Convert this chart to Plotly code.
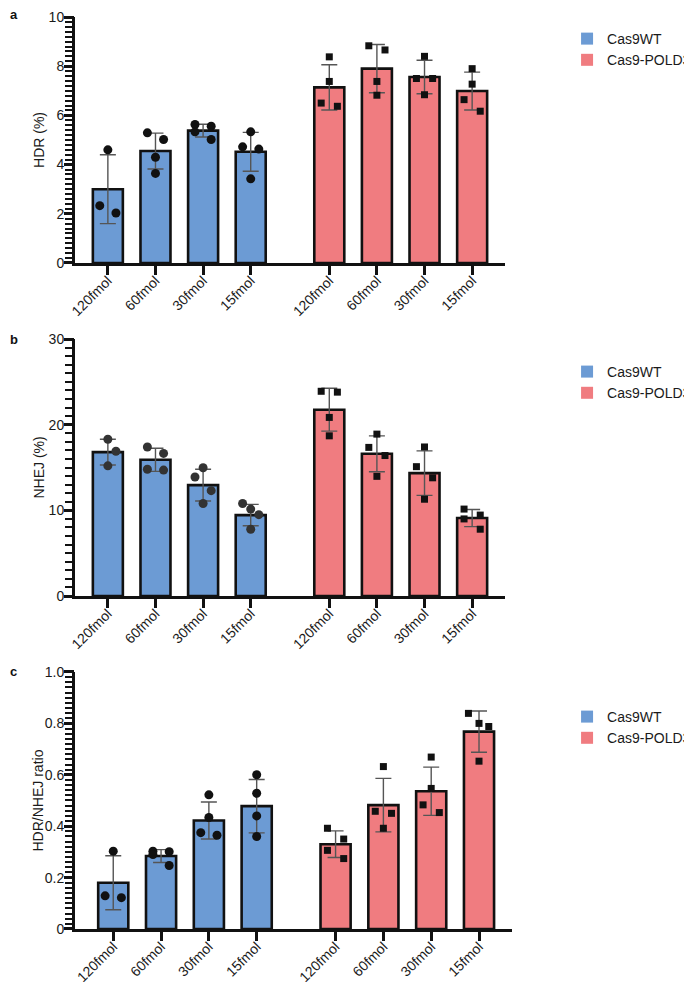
import plotly.graph_objects as go

# ---- data ----
doses = ['120fmol', '60fmol', '30fmol', '15fmol']
groups = ['Cas9WT', 'Cas9-POLD3']

hdr_ticks = ['0', '2', '4', '6', '8', '10']
hdr_wt_mean = [3.0, 4.55, 5.38, 4.52]
hdr_wt_sd = [1.4, 0.73, 0.26, 0.79]
hdr_wt_pts = [[4.6, 2.33, 2.03], [5.29, 5.02, 4.3, 3.64], [5.63, 5.56, 5.33, 5.02], [5.33, 4.72, 4.63, 3.42]]
hdr_pold3_mean = [7.14, 7.9, 7.56, 6.99]
hdr_pold3_sd = [0.92, 0.98, 0.68, 0.77]
hdr_pold3_pts = [[8.38, 7.38, 6.5, 6.37], [8.83, 8.66, 7.38, 6.82], [8.4, 7.5, 7.5, 6.84], [7.9, 7.27, 6.64, 6.17]]

nhej_ticks = ['0', '10', '20', '30']
nhej_wt_mean = [16.8, 15.9, 12.95, 9.45]
nhej_wt_sd = [1.5, 1.35, 1.85, 1.25]
nhej_wt_pts = [[18.3, 16.9, 15.2], [17.4, 16.65, 14.8, 14.7], [14.97, 13.9, 12.3, 10.8], [10.8, 10.15, 9.5, 7.8]]
nhej_pold3_mean = [21.75, 16.6, 14.35, 9.1]
nhej_pold3_sd = [2.5, 2.1, 2.6, 1.0]
nhej_pold3_pts = [[23.9, 23.8, 20.85, 18.7], [18.9, 17.35, 16.4, 13.97], [17.4, 15.1, 13.8, 11.3], [10.15, 9.0, 9.45, 7.8]]

ratio_ticks = ['0', '0.2', '0.4', '0.6', '0.8', '1.0']
ratio_wt_mean = [0.18, 0.284, 0.422, 0.478]
ratio_wt_sd = [0.105, 0.025, 0.072, 0.104]
ratio_wt_pts = [[0.303, 0.129, 0.122], [0.303, 0.301, 0.29, 0.247], [0.522, 0.434, 0.375, 0.365], [0.6, 0.528, 0.44, 0.36]]
ratio_pold3_mean = [0.33, 0.482, 0.536, 0.768]
ratio_pold3_sd = [0.052, 0.104, 0.094, 0.08]
ratio_pold3_pts = [[0.392, 0.35, 0.306, 0.274], [0.632, 0.458, 0.45, 0.392], [0.669, 0.547, 0.483, 0.453], [0.839, 0.8, 0.788, 0.653]]

# ---- layout / style (not data) ----
BLUE = '#6C9BD4'
RED = '#F07C80'
FONT = 'Liberation Sans, Arial, sans-serif'
INK = '#1a1a1a'
JIT = 0.17  # horizontal scatter step, in bar slots
N_MINOR = 10  # minor intervals per major interval

# horizontal scatter offsets of the replicate dots (in JIT steps)
jitter = {
    'a': ([[0, -1, 1], [-1, 1, 0, 0], [-1, 1, -1, 1], [0, -1, 1, 0]],
          [[0, 0, -1, 1], [-1, 1, 0, 0], [0, -1, 1, 0], [0, 0, -1, 1]]),
    'b': ([[0, 1, 0], [-1, 1, -1, 1], [0, -1, 1, 0], [-1, 0, 1, 0]],
          [[-1, 1, 0, 0], [0, -1, 1, 0], [0, -1, 1, 0], [-1, -1, 1, 1]]),
    'c': ([[0, -1, 1], [-1, 1, -1, 1], [0, 0, -1, 1], [0, 0, 0, 0]],
          [[-1, 1, -1, 1], [0, -1, 1, 0], [0, 0, -1, 1], [-1.3, 0, 1.2, 0]]),
}

wt_pos = [0, 1, 2, 3]
pold3_pos = [4.65, 5.65, 6.65, 7.65]

# page is offset by the body margin (8px), so the figure is 684x974
W, H = 684, 974
ML, MR, MT, MB = 67, 180, 9, 53

panels = [
    dict(key='a', ax='', mx='4', title='HDR (%)', rng=[0, 10], dtick=2, labels=hdr_ticks, dot='#111',
         wt=(hdr_wt_mean, hdr_wt_sd, hdr_wt_pts), pold3=(hdr_pold3_mean, hdr_pold3_sd, hdr_pold3_pts),
         ydom=[0.7303, 1.0], xdom=[0, 430 / 437], xr=[-0.69, 8.34], leg_y=0.9934, lab_y=1.0022),
    dict(key='b', ax='2', mx='5', title='NHEJ (%)', rng=[0, 30], dtick=10, labels=nhej_ticks, dot='#333',
         wt=(nhej_wt_mean, nhej_wt_sd, nhej_wt_pts), pold3=(nhej_pold3_mean, nhej_pold3_sd, nhej_pold3_pts),
         ydom=[0.3651, 0.6469], xdom=[0, 430 / 437], xr=[-0.69, 8.34], leg_y=0.6283, lab_y=0.6469),
    dict(key='c', ax='3', mx='6', title='HDR/NHEJ ratio', rng=[0, 1.0], dtick=0.2, labels=ratio_ticks, dot='#111',
         wt=(ratio_wt_mean, ratio_wt_sd, ratio_wt_pts), pold3=(ratio_pold3_mean, ratio_pold3_sd, ratio_pold3_pts),
         ydom=[0, 0.2818], xdom=[0, 1], xr=[-0.8, 8.34], leg_y=0.25, lab_y=0.2818),
]

fig = go.Figure()
layout = dict(
    template='none',
    width=W, height=H,
    margin=dict(l=ML, r=MR, t=MT, b=MB, autoexpand=False),
    paper_bgcolor='white', plot_bgcolor='white',
    font=dict(family=FONT, size=14, color=INK),
    barmode='overlay',
    annotations=[],
)

for i, p in enumerate(panels):
    xa, ya, ym = 'x' + p['ax'], 'y' + p['ax'], 'y' + p['mx']
    legname = 'legend' + p['ax']
    jw, jr = jitter[p['key']]
    for grp, pos, color, sym, size, (mean, sd, pts), jit in (
            (groups[0], wt_pos, BLUE, 'circle', 9, p['wt'], jw),
            (groups[1], pold3_pos, RED, 'square', 7, p['pold3'], jr)):
        fig.add_trace(go.Bar(
            x=pos, y=mean, width=0.63, xaxis=xa, yaxis=ya, showlegend=False,
            marker=dict(color=color, line=dict(color='#111', width=2.6)),
            error_y=dict(type='data', array=sd, visible=True, color='#555', thickness=1.4, width=8),
        ))
        xs, ys = [], []
        for k, vals in enumerate(pts):
            for v, o in zip(vals, jit[k]):
                xs.append(pos[k] + o * JIT)
                ys.append(v)
        fig.add_trace(go.Scatter(
            x=xs, y=ys, mode='markers', xaxis=xa, yaxis=ya, showlegend=False,
            marker=dict(symbol=sym, size=size, color='#111' if sym == 'square' else p['dot'], line=dict(width=0)),
        ))
        # legend swatch (no outline)
        fig.add_trace(go.Bar(
            x=[None], y=[None], name=grp, xaxis=xa, yaxis=ya, legend=legname,
            marker=dict(color=color, line=dict(width=0)),
        ))
    # empty trace so the overlaying (major tick) axis gets drawn
    fig.add_trace(go.Scatter(x=[None], y=[None], xaxis=xa, yaxis=ym, showlegend=False, hoverinfo='skip'))

    major_vals = [k * p['dtick'] for k in range(len(p['labels']))]
    n_all = (len(p['labels']) - 1) * N_MINOR
    all_vals = [round(k * p['dtick'] / N_MINOR, 6) for k in range(n_all + 1)]
    all_text = [p['labels'][k // N_MINOR] if k % N_MINOR == 0 else '' for k in range(n_all + 1)]

    layout['xaxis' + p['ax']] = dict(
        domain=p['xdom'], anchor=ya, range=p['xr'], showgrid=False, zeroline=False, automargin=False,
        showline=True, linecolor='#111', linewidth=3,
        tickmode='array', tickvals=wt_pos + pold3_pos, ticktext=doses + doses,
        ticks='outside', ticklen=9, tickwidth=3, tickcolor='#111', tickangle=-45,
        tickfont=dict(size=14, color=INK), ticklabelstandoff=-8,
    )
    # main y axis: labels + minor comb (ticks start under the 3px axis line)
    layout['yaxis' + p['ax']] = dict(
        domain=p['ydom'], anchor=xa, range=p['rng'], showgrid=False, zeroline=False, automargin=False,
        showline=True, linecolor='#111', linewidth=3,
        tickmode='array', tickvals=all_vals, ticktext=all_text,
        ticks='outside', ticklen=7, tickwidth=2, tickcolor='#111',
        tickfont=dict(size=14, color=INK), ticklabeloverflow='allow', ticklabelstandoff=-2,
    )
    # overlaying axis: longer major ticks
    layout['yaxis' + p['mx']] = dict(
        overlaying=ya, anchor=xa, side='left', range=p['rng'], showgrid=False, zeroline=False,
        automargin=False, showline=False, showticklabels=False,
        tickmode='array', tickvals=major_vals, ticks='outside', ticklen=10, tickwidth=3, tickcolor='#111',
    )
    layout[legname] = dict(
        x=1.126, xanchor='left', y=p['leg_y'], yanchor='top',
        bgcolor='rgba(0,0,0,0)', font=dict(size=14, color=INK), traceorder='normal',
    )
    layout['annotations'].append(dict(
        text='<b>%s</b>' % p['key'], xref='paper', yref='paper',
        x=-ML / 437, xanchor='left', y=p['lab_y'], yanchor='middle',
        showarrow=False, font=dict(size=13, color='#111'),
    ))
    layout['annotations'].append(dict(
        text=p['title'], xref='paper', yref='paper', textangle=-90,
        x=-0.0824, xanchor='center', y=sum(p['ydom']) / 2, yanchor='middle',
        showarrow=False, font=dict(size=14, color=INK),
    ))

fig.update_layout(**layout)
fig.write_html('out.html')
